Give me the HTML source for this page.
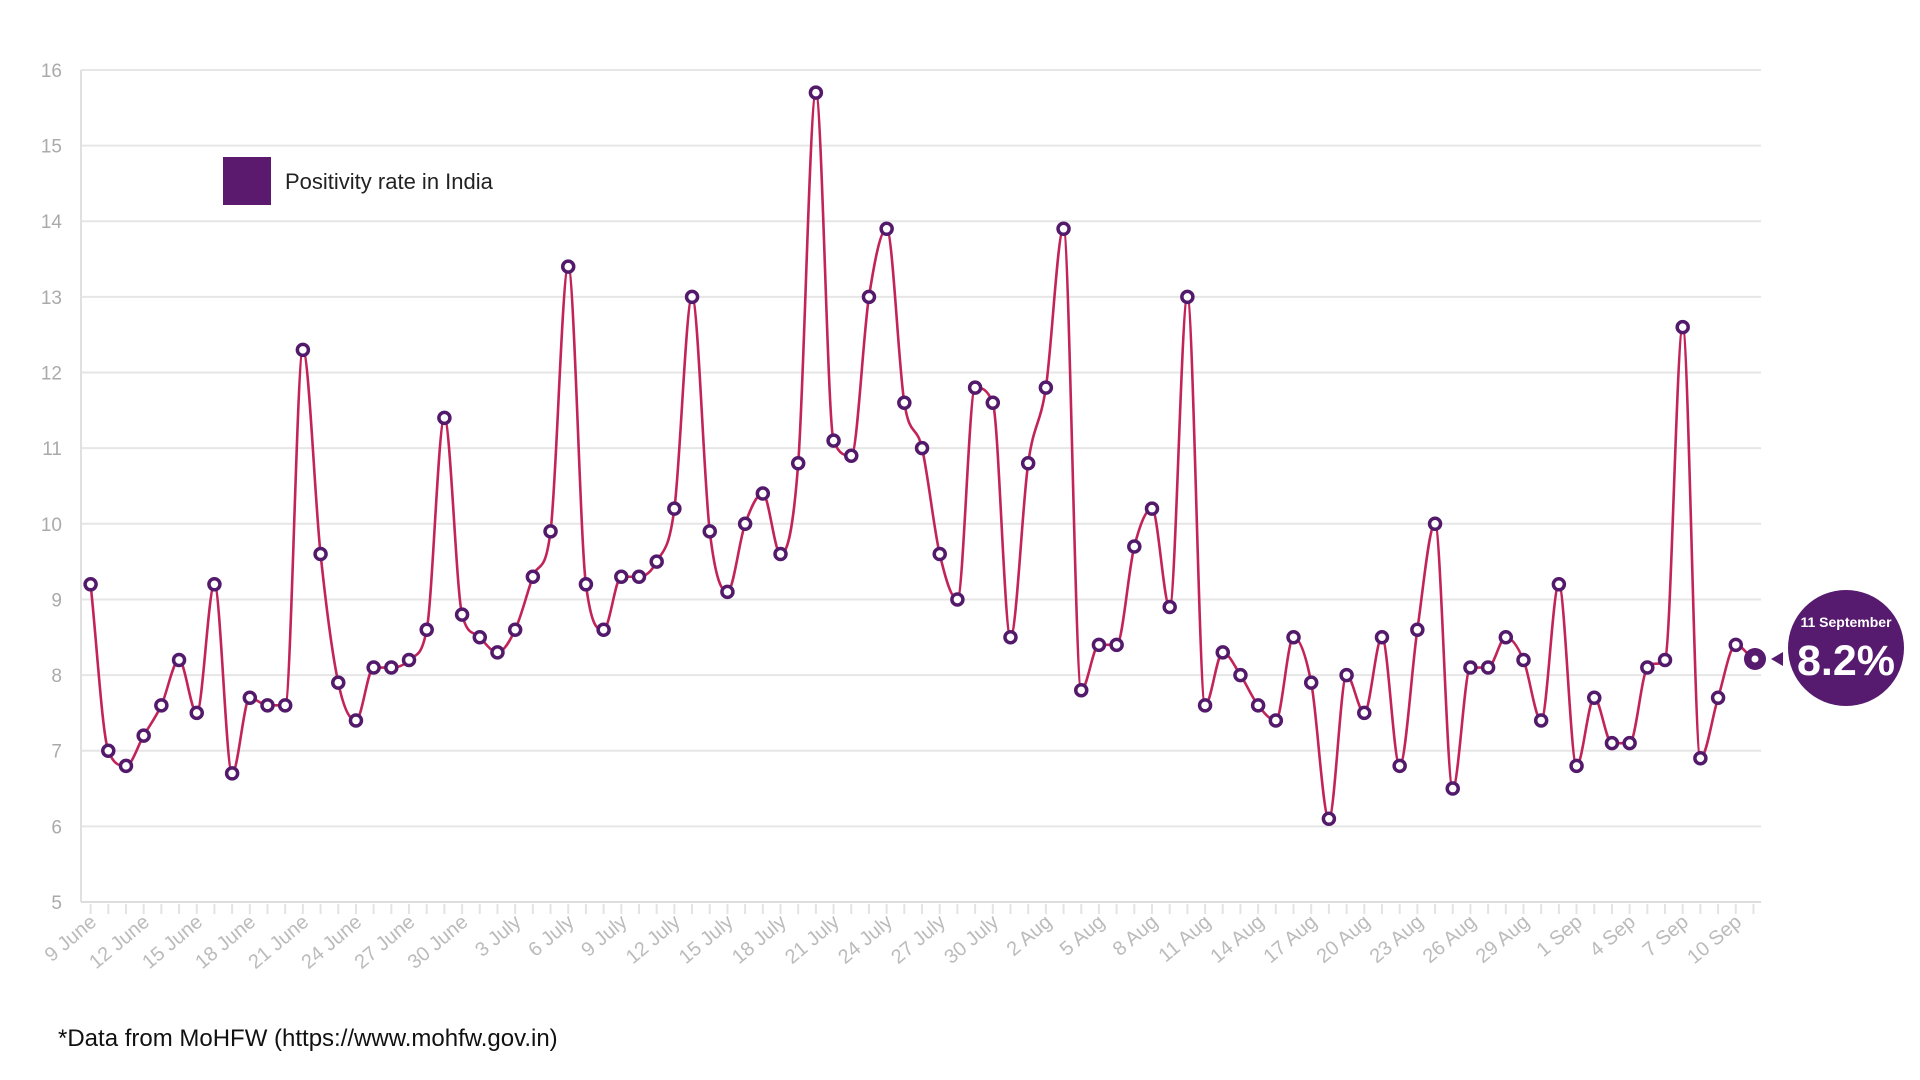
<!DOCTYPE html>
<html><head><meta charset="utf-8"><style>
body{margin:0;background:#fff;width:1920px;height:1080px;overflow:hidden}
svg{display:block}
</style></head><body>
<svg id="s" width="1920" height="1080" xmlns="http://www.w3.org/2000/svg" font-family="Liberation Sans, sans-serif"></svg>
<script>
const v=[9.2,7.0,6.8,7.2,7.6,8.2,7.5,9.2,6.7,7.7,7.6,7.6,12.3,9.6,7.9,7.4,8.1,8.1,8.2,8.6,11.4,8.8,8.5,8.3,8.6,9.3,9.9,13.4,9.2,8.6,9.3,9.3,9.5,10.2,13.0,9.9,9.1,10.0,10.4,9.6,10.8,15.7,11.1,10.9,13.0,13.9,11.6,11.0,9.6,9.0,11.8,11.6,8.5,10.8,11.8,13.9,7.8,8.4,8.4,9.7,10.2,8.9,13.0,7.6,8.3,8.0,7.6,7.4,8.5,7.9,6.1,8.0,7.5,8.5,6.8,8.6,10.0,6.5,8.1,8.1,8.5,8.2,7.4,9.2,6.8,7.7,7.1,7.1,8.1,8.2,12.6,6.9,7.7,8.4,8.2];
const dx=17.69, X=i=>90.6+i*dx, Y=t=>902-(t-5)*75.64;
let h='';
for(let t=5;t<=16;t++){h+=`<line x1="81" x2="1761" y1="${Y(t)}" y2="${Y(t)}" stroke="${t==5?'#ddd':'#e6e6e6'}" stroke-width="2"/>`;
h+=`<text x="62" y="${Y(t)+7}" text-anchor="end" font-size="19" fill="#aaa">${t}</text>`;}
h+=`<line x1="81" x2="81" y1="70" y2="902" stroke="#e0e0e0" stroke-width="2"/>`;
for(let i=0;i<95;i++)h+=`<line x1="${X(i)}" x2="${X(i)}" y1="904" y2="914" stroke="#e3e3e3" stroke-width="2"/>`;
const labs=["9 June","12 June","15 June","18 June","21 June","24 June","27 June","30 June","3 July","6 July","9 July","12 July","15 July","18 July","21 July","24 July","27 July","30 July","2 Aug","5 Aug","8 Aug","11 Aug","14 Aug","17 Aug","20 Aug","23 Aug","26 Aug","29 Aug","1 Sep","4 Sep","7 Sep","10 Sep"];
labs.forEach((l,k)=>{const x=X(k*3)+7,y=924;h+=`<text transform="translate(${x},${y}) rotate(-40)" text-anchor="end" font-size="20" fill="#bbb">${l}</text>`;});
// monotone X
const n=v.length,ys=v.map(Y),s=[],m=[];
for(let i=0;i<n-1;i++)s.push((ys[i+1]-ys[i])/dx);
for(let i=0;i<n;i++){if(i==0)m.push(s[0]);else if(i==n-1)m.push(s[n-2]);else{const a=s[i-1],b=s[i];m.push(a*b<=0?0:(a+b)/2);
const mm=m[i];const lim=3*Math.min(Math.abs(a),Math.abs(b));if(Math.abs(mm)>lim)m[i]=Math.sign(mm)*lim;}}
let d=`M${X(0)},${ys[0]}`;
for(let i=0;i<n-1;i++){d+=`C${X(i)+dx/3},${ys[i]+m[i]*dx/3} ${X(i+1)-dx/3},${ys[i+1]-m[i+1]*dx/3} ${X(i+1)},${ys[i+1]}`;}
h+=`<path d="${d}" fill="none" stroke="#c2245a" stroke-width="2.6"/>`;
for(let i=0;i<94;i++)h+=`<circle cx="${X(i)}" cy="${Y(v[i])}" r="5.5" fill="#fff" stroke="#531a6b" stroke-width="3.5"/>`;
h+=`<circle cx="1755" cy="659" r="11" fill="#561a6e"/><circle cx="1755" cy="659" r="3.5" fill="#fff"/>`;
h+=`<polygon points="1771,659 1783,652 1783,666" fill="#561a6e"/>`;
h+=`<circle cx="1846" cy="648" r="58" fill="#561a6e"/>`;
h+=`<text x="1846" y="627" text-anchor="middle" font-size="14" font-weight="bold" fill="#fff">11 September</text>`;
h+=`<text x="1846" y="675" text-anchor="middle" font-size="43" font-weight="bold" fill="#fff">8.2%</text>`;
h+=`<rect x="223" y="157" width="48" height="48" fill="#5b1a6e"/>`;
h+=`<text x="285" y="189" font-size="22" fill="#222">Positivity rate in India</text>`;
h+=`<text x="58" y="1046" font-size="24" fill="#111">*Data from MoHFW (https://www.mohfw.gov.in)</text>`;
document.getElementById('s').innerHTML=h;
</script>
</body></html>
